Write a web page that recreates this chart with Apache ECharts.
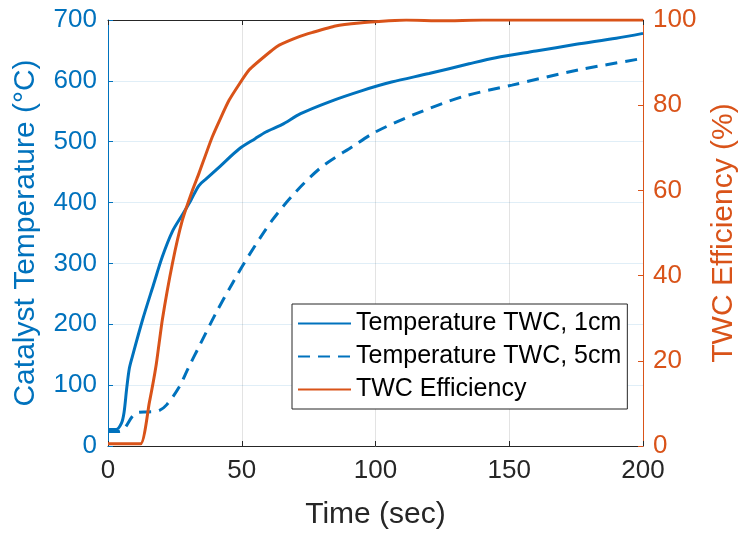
<!DOCTYPE html>
<html>
<head>
<meta charset="utf-8">
<script src="https://cdn.jsdelivr.net/npm/echarts@6/dist/echarts.min.js"></script>
<style>
  html, body { margin: 0; padding: 0; background: #fff; }
  #chart { width: 747px; height: 533px; }
</style>
</head>
<body>
<div id="chart"></div>
<script>
// Catalyst temperature at 1 cm (solid) and 5 cm (dashed), TWC conversion efficiency
const time1cm = [0, 3, 5, 6, 7, 8, 9.1, 12.9, 17, 20.3, 24, 27.8, 31, 34, 37, 42, 49, 55, 59, 65, 72, 83, 95, 106, 120, 135, 145, 160, 175, 190, 200];
const temp1cm = [27, 27, 37, 55, 95, 128, 147, 207, 265, 311, 352, 380, 404, 428, 440, 460, 488, 505, 516, 528, 546, 566, 584, 598, 612, 628, 638, 649, 660, 670, 678];

const time5cm = [0, 4, 6, 9, 11, 15, 19, 22, 26.6, 30, 34, 40.3, 46.6, 52.8, 61.4, 70.3, 80, 91.4, 100, 114, 132.6, 151, 176, 200];
const temp5cm = [24, 24, 28, 48, 55, 56, 58, 68, 97, 128, 163, 218, 268, 314, 371, 418, 459, 492, 516, 544, 574, 593, 618, 637];

const timeEff = [0, 12.2, 15.4, 18, 20.3, 24.1, 27.8, 31.6, 34, 39, 45.3, 52.8, 61.5, 64, 71.5, 76.5, 85, 94, 105, 111.5, 125, 140, 200];
const effTWC = [0.5, 0.5, 10, 19, 29.6, 42.9, 53, 60.1, 64, 72.6, 81.2, 88.3, 93, 94.1, 96.1, 97.1, 98.6, 99.3, 99.8, 100, 99.8, 100, 100];

const xTicks = [0, 50, 100, 150, 200];
const legendNames = ['Temperature TWC, 1cm', 'Temperature TWC, 5cm', 'TWC Efficiency'];

const BLUE = '#0072BD';
const ORANGE = '#D95319';
const DARK = '#262626';
const FONT = 'Liberation Sans, Arial, sans-serif';

const pairs = (xs, ys) => xs.map((x, i) => [x, ys[i]]);

const chart = echarts.init(document.getElementById('chart'), null, { renderer: 'canvas' });

chart.setOption({
  backgroundColor: '#fff',
  animation: false,
  textStyle: { fontFamily: FONT },
  grid: { left: 108, right: 104, top: 20, bottom: 87, containLabel: false, outerBoundsMode: 'none' },
  legend: {
    data: legendNames,
    orient: 'vertical',
    left: 292,
    top: 304,
    backgroundColor: '#fff',
    borderColor: DARK,
    borderWidth: 1,
    padding: [7, 6, 7, 5],
    itemWidth: 53,
    itemHeight: 14,
    itemGap: 8,
    itemStyle: { opacity: 0 },
    textStyle: { fontSize: 25, lineHeight: 25, color: '#000', fontFamily: FONT }
  },
  xAxis: [
    {
      type: 'value',
      position: 'bottom',
      min: xTicks[0],
      max: xTicks[xTicks.length - 1],
      interval: 50,
      axisLine: { show: true, onZero: false, lineStyle: { color: DARK, width: 1 } },
      axisTick: { show: true, inside: true, length: 5, lineStyle: { color: DARK } },
      splitLine: { show: true, lineStyle: { color: 'rgba(38,38,38,0.13)', width: 1 } },
      axisLabel: { fontSize: 26, color: DARK, margin: 12, fontFamily: FONT },
      name: 'Time (sec)',
      nameLocation: 'middle',
      nameGap: 54,
      nameTextStyle: { fontSize: 30, color: DARK, fontFamily: FONT }
    },
    {
      type: 'value',
      position: 'top',
      min: xTicks[0],
      max: xTicks[xTicks.length - 1],
      interval: 50,
      axisLine: { show: true, onZero: false, lineStyle: { color: DARK, width: 1 } },
      axisTick: { show: true, inside: true, length: 5, lineStyle: { color: DARK } },
      splitLine: { show: false },
      axisLabel: { show: false }
    }
  ],
  yAxis: [
    {
      type: 'value',
      position: 'left',
      min: 0,
      max: 700,
      interval: 100,
      axisLine: { show: true, onZero: false, lineStyle: { color: BLUE, width: 1 } },
      axisTick: { show: true, inside: true, length: 5, lineStyle: { color: BLUE } },
      splitLine: { show: true, lineStyle: { color: 'rgba(0,114,189,0.12)', width: 1 } },
      axisLabel: { fontSize: 26, color: BLUE, margin: 11, fontFamily: FONT },
      name: 'Catalyst Temperature (°C)',
      nameLocation: 'middle',
      nameGap: 67,
      nameTextStyle: { fontSize: 30, color: BLUE, fontFamily: FONT }
    },
    {
      type: 'value',
      position: 'right',
      min: 0,
      max: 100,
      interval: 20,
      axisLine: { show: true, onZero: false, lineStyle: { color: ORANGE, width: 1 } },
      axisTick: { show: true, inside: true, length: 5, lineStyle: { color: ORANGE } },
      splitLine: { show: false },
      axisLabel: { fontSize: 26, color: ORANGE, margin: 10, fontFamily: FONT },
      name: 'TWC Efficiency (%)',
      nameLocation: 'middle',
      nameRotate: 90,
      nameGap: 66,
      nameTextStyle: { fontSize: 30, color: ORANGE, fontFamily: FONT }
    }
  ],
  series: [
    {
      name: legendNames[0],
      type: 'line',
      xAxisIndex: 0,
      yAxisIndex: 0,
      data: pairs(time1cm, temp1cm),
      showSymbol: false,
      symbol: 'none',
      smooth: 0.3,
      lineStyle: { color: BLUE, width: 3 },
      itemStyle: { color: BLUE }
    },
    {
      name: legendNames[1],
      type: 'line',
      xAxisIndex: 0,
      yAxisIndex: 0,
      data: pairs(time5cm, temp5cm),
      showSymbol: false,
      symbol: 'none',
      smooth: 0.3,
      lineStyle: { color: BLUE, width: 3, type: [12, 8] },
      itemStyle: { color: BLUE }
    },
    {
      name: legendNames[2],
      type: 'line',
      xAxisIndex: 0,
      yAxisIndex: 1,
      data: pairs(timeEff, effTWC),
      showSymbol: false,
      symbol: 'none',
      smooth: 0.15,
      lineStyle: { color: ORANGE, width: 3 },
      itemStyle: { color: ORANGE }
    }
  ]
});
</script>
</body>
</html>
